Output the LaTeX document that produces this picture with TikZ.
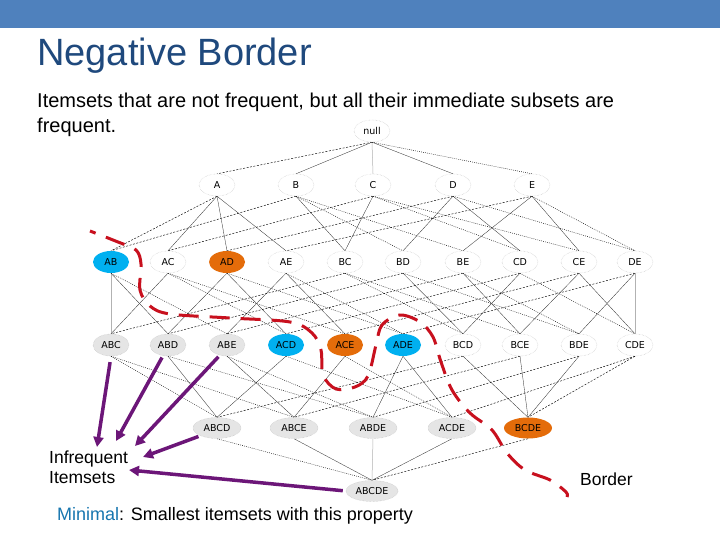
\documentclass[tikz,border=0pt]{standalone}
\usepackage{fontspec}
\setmainfont{Liberation Sans}
\newfontfamily\lattfont{DejaVu Sans}
\usetikzlibrary{shapes.geometric,arrows.meta,backgrounds}
\definecolor{barblue}{RGB}{79,129,189}
\definecolor{titleblue}{RGB}{31,73,125}
\definecolor{minblue}{RGB}{23,118,175}
\definecolor{lightblue}{RGB}{0,176,240}
\definecolor{orangefill}{RGB}{228,108,10}
\definecolor{nodegray}{RGB}{229,229,229}
\definecolor{bordred}{RGB}{200,16,30}
\definecolor{arrowpurple}{RGB}{108,22,120}
\newcommand\lattedge[3]{\draw[#1] (#2.south) -- (#3.north);}
\begin{document}
\begin{tikzpicture}[x=1pt,y=-1pt,
  itemnode/.style={ellipse, inner sep=0pt, minimum width=36pt, minimum height=22pt,
    font=\lattfont\fontsize{9.5}{10}\selectfont},
  fnode/.style={itemnode, draw=gray!55, densely dotted, fill=white},
  inode/.style={itemnode, draw=gray!55, densely dotted, fill=nodegray},
  bnode/.style={itemnode, fill=lightblue},
  onode/.style={itemnode, fill=orangefill},
  widenode/.style={minimum width=48pt, minimum height=21pt},
  ev/.style={draw=gray!60, line width=0.5pt},
  es/.style={draw=black!85, line width=0.3pt},
  ed/.style={draw=black, line width=0.45pt, dash pattern=on 2pt off 1.5pt},
  eo/.style={draw=black, line width=0.45pt, dash pattern=on 0.8pt off 1.2pt},
  purparrow/.style={draw=arrowpurple, line width=3.5pt, -{Triangle[length=10pt,width=10pt]}},
  bordline/.style={draw=bordred, line width=3pt, dash pattern=on 20pt off 11pt},
  textnode/.style={inner sep=0pt}
]
\useasboundingbox (0,0) rectangle (720,540);

% title and texts
\node[textnode, anchor=base west, font=\fontsize{38}{45}\selectfont, text=titleblue] (title) at (37,66) {Negative Border};
\node[textnode, anchor=north west, align=left, font=\fontsize{20}{25}\selectfont] (subtitle) at (37,92.5)
  {Itemsets that are not frequent, but all their immediate subsets are\\frequent.};
\node[textnode, anchor=north west, align=left, font=\fontsize{17.5}{20.5}\selectfont] (infreq) at (49,450.5)
  {Infrequent\\Itemsets};
\node[textnode, anchor=base west, font=\fontsize{17.5}{20}\selectfont] (border) at (580,485) {Border};
\node[textnode, anchor=base west, font=\fontsize{18}{21}\selectfont] (minimal) at (57,520)
  {\textcolor{minblue}{Minimal}: Smallest itemsets with this property};

% lattice nodes
\node[fnode] (null) at (372,131) {null};
\node[fnode] (A) at (217,185) {A};
\node[fnode] (B) at (296,185) {B};
\node[fnode] (C) at (373,185) {C};
\node[fnode] (D) at (453,185) {D};
\node[fnode] (E) at (532,185) {E};

\node[bnode] (AB) at (111,262) {AB};
\node[fnode] (AC) at (168,262) {AC};
\node[onode] (AD) at (227,262) {AD};
\node[fnode] (AE) at (286,262) {AE};
\node[fnode] (BC) at (345,262) {BC};
\node[fnode] (BD) at (403,262) {BD};
\node[fnode] (BE) at (463,262) {BE};
\node[fnode] (CD) at (520,262) {CD};
\node[fnode] (CE) at (579,262) {CE};
\node[fnode] (DE) at (635,262) {DE};

\node[inode] (ABC) at (111,345) {ABC};
\node[inode] (ABD) at (168,345) {ABD};
\node[inode] (ABE) at (227,345) {ABE};
\node[bnode] (ACD) at (286,345) {ACD};
\node[onode] (ACE) at (345,345) {ACE};
\node[bnode] (ADE) at (403,345) {ADE};
\node[fnode] (BCD) at (463,345) {BCD};
\node[fnode] (BCE) at (520,345) {BCE};
\node[fnode] (BDE) at (579,345) {BDE};
\node[fnode] (CDE) at (635,345) {CDE};

\node[inode, widenode] (ABCD) at (217,428) {ABCD};
\node[inode, widenode] (ABCE) at (294,428) {ABCE};
\node[inode, widenode] (ABDE) at (373,428) {ABDE};
\node[inode, widenode] (ACDE) at (452,428) {ACDE};
\node[onode, widenode] (BCDE) at (528,428) {BCDE};

\node[inode, minimum width=52pt, minimum height=21pt] (ABCDE) at (372,491) {ABCDE};

\begin{pgfonlayer}{background}
\fill[white] (0,0) rectangle (720,540);
\fill[barblue] (0,0) rectangle (720,28);
% level 0 -> 1
\lattedge{ed}{null}{A}\lattedge{es}{null}{B}\lattedge{ev}{null}{C}\lattedge{es}{null}{D}\lattedge{eo}{null}{E}
% level 1 -> 2
\lattedge{ed}{A}{AB}\lattedge{es}{A}{AC}\lattedge{es}{A}{AD}\lattedge{es}{A}{AE}
\lattedge{ed}{B}{AB}\lattedge{es}{B}{BC}\lattedge{eo}{B}{BD}\lattedge{eo}{B}{BE}
\lattedge{ed}{C}{AC}\lattedge{es}{C}{BC}\lattedge{eo}{C}{CD}\lattedge{eo}{C}{CE}
\lattedge{ed}{D}{AD}\lattedge{es}{D}{BD}\lattedge{es}{D}{CD}\lattedge{eo}{D}{DE}
\lattedge{ed}{E}{AE}\lattedge{es}{E}{BE}\lattedge{es}{E}{CE}\lattedge{eo}{E}{DE}
% level 2 -> 3
\lattedge{ev}{AB}{ABC}\lattedge{es}{AB}{ABD}\lattedge{eo}{AB}{ABE}
\lattedge{es}{AC}{ABC}\lattedge{eo}{AC}{ACD}\lattedge{eo}{AC}{ACE}
\lattedge{es}{AD}{ABD}\lattedge{es}{AD}{ACD}\lattedge{eo}{AD}{ADE}
\lattedge{es}{AE}{ABE}\lattedge{es}{AE}{ACE}\lattedge{eo}{AE}{ADE}
\lattedge{ed}{BC}{ABC}\lattedge{eo}{BC}{BCD}\lattedge{eo}{BC}{BCE}
\lattedge{ed}{BD}{ABD}\lattedge{es}{BD}{BCD}\lattedge{eo}{BD}{BDE}
\lattedge{ed}{BE}{ABE}\lattedge{es}{BE}{BCE}\lattedge{eo}{BE}{BDE}
\lattedge{ed}{CD}{ACD}\lattedge{es}{CD}{BCD}\lattedge{eo}{CD}{CDE}
\lattedge{ed}{CE}{ACE}\lattedge{es}{CE}{BCE}\lattedge{es}{CE}{CDE}
\lattedge{ed}{DE}{ADE}\lattedge{es}{DE}{BDE}\lattedge{ev}{DE}{CDE}
% level 3 -> 4
\lattedge{eo}{ABC}{ABCD}\lattedge{eo}{ABC}{ABCE}
\lattedge{es}{ABD}{ABCD}\lattedge{eo}{ABD}{ABDE}
\lattedge{es}{ABE}{ABCE}\lattedge{eo}{ABE}{ABDE}
\lattedge{es}{ACD}{ABCD}\lattedge{eo}{ACD}{ACDE}
\lattedge{es}{ACE}{ABCE}\lattedge{eo}{ACE}{ACDE}
\lattedge{es}{ADE}{ABDE}\lattedge{es}{ADE}{ACDE}
\lattedge{ed}{BCD}{ABCD}\lattedge{es}{BCD}{BCDE}
\lattedge{ed}{BCE}{ABCE}\lattedge{es}{BCE}{BCDE}
\lattedge{ed}{BDE}{ABDE}\lattedge{es}{BDE}{BCDE}
\lattedge{ed}{CDE}{ACDE}\lattedge{ed}{CDE}{BCDE}
% level 4 -> 5
\lattedge{eo}{ABCD}{ABCDE}\lattedge{es}{ABCE}{ABCDE}\lattedge{ev}{ABDE}{ABCDE}
\lattedge{es}{ACDE}{ABCDE}\lattedge{ed}{BCDE}{ABCDE}
\end{pgfonlayer}

% negative border line
\draw[bordline, dash phase=14pt] plot[smooth, tension=0.55] coordinates {
  (90,231) (118,242) (136,250) (141,264) (140,290) (150,306) (170,314) (230,318)
  (290,322) (312,333) (321,350) (323,375) (336,389) (355,387) (368,376) (376,345)
  (382,325) (400,315) (420,322) (433,337) (441,362) (452,390) (470,413) (492,430)
  (507,453) (525,470) (550,480) (566,492) (567,497)};

% arrows to "Infrequent Itemsets"
\coordinate (tip1) at (97,447);
\coordinate (tip2) at (116,441);
\coordinate (tip3) at (135,446);
\coordinate (tip4) at (143,457);
\coordinate (tip5) at (129,470);
\draw[purparrow, shorten <=6pt] (ABC.south) -- (tip1);
\draw[purparrow, shorten <=2pt] (ABD.-115) -- (tip2);
\draw[purparrow, shorten <=2pt] (ABE.-125) -- (tip3);
\draw[purparrow, shorten <=2pt] (ABCD.205) -- (tip4);
\draw[purparrow, shorten <=3pt] (ABCDE.west) -- (tip5);
\end{tikzpicture}
\end{document}
